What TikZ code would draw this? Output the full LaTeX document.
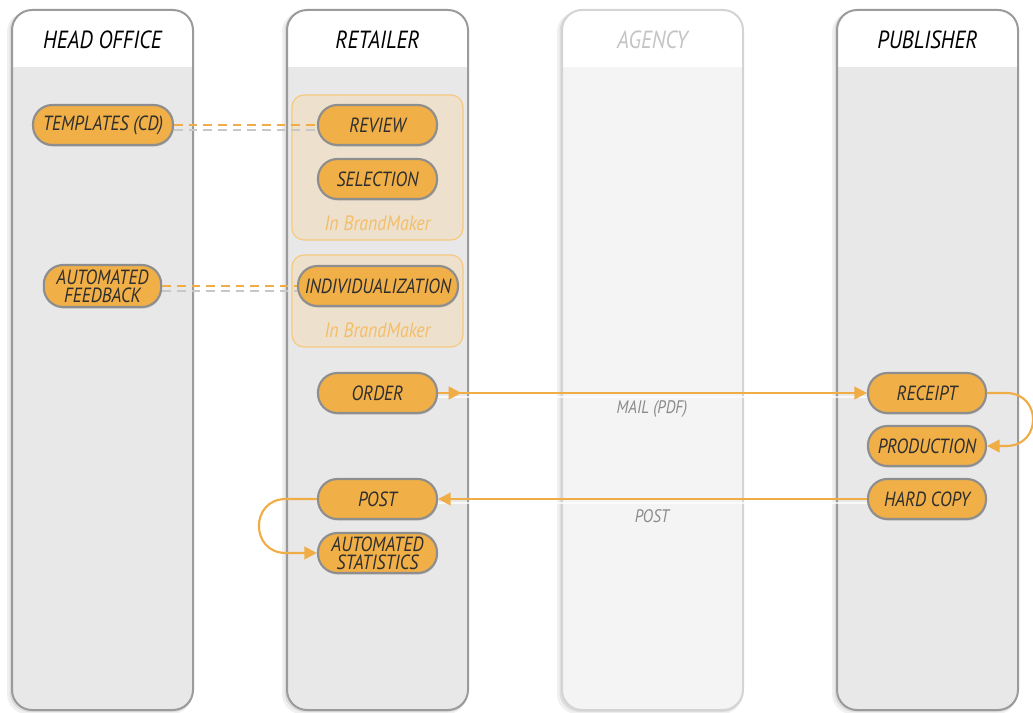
\documentclass[tikz,border=0pt]{standalone}
\usepackage{fontspec}
\setmainfont{PT Sans}[FakeStretch=0.86]
\usetikzlibrary{arrows.meta,shadows,decorations.markings}
\definecolor{pillfill}{HTML}{F0AF47}
\definecolor{pillline}{HTML}{8E8E8E}
\definecolor{lanefill}{HTML}{E8E8E8}
\definecolor{laneline}{HTML}{9B9B9B}
\definecolor{agfill}{HTML}{F4F4F4}
\definecolor{agline}{HTML}{D4D4D4}
\definecolor{agtext}{HTML}{C4C4C4}
\definecolor{boxfill}{HTML}{EDE0CD}
\definecolor{boxline}{HTML}{F6C97F}
\definecolor{bmtext}{HTML}{F3BE68}
\definecolor{conn}{HTML}{F0AC45}
\definecolor{lbl}{HTML}{8A8A8A}
\definecolor{txt}{HTML}{2E2E2E}
\newcommand\pilltext{\fontsize{15.4}{13.4}\selectfont\itshape}
\newcommand\drawlane[4]{%
  \fill[black,opacity=0.06,rounded corners=15pt] (#1-5,12) rectangle (#2-1,714);
  \fill[black,opacity=0.08,rounded corners=15pt] (#1-2.5,11) rectangle (#2,712);
  \begin{scope}
    \clip[rounded corners=15pt] (#1,10) rectangle (#2,710);
    \fill[#3] (#1,10) rectangle (#2,710);
    \fill[white] (#1,10) rectangle (#2,67);
  \end{scope}
  \draw[#4,line width=1.5pt,rounded corners=15pt] (#1,10) rectangle (#2,710);
}
\tikzset{
  pill/.style={draw=pillline,line width=1.6pt,fill=pillfill,rounded corners=14.5pt,
    minimum height=30pt,minimum width=#1,inner sep=0pt,align=center,font=\pilltext,text=txt,
    drop shadow={shadow xshift=0.5pt,shadow yshift=-1.2pt,opacity=0.3}},
  hdr/.style={font=\fontsize{18.6}{20}\selectfont\itshape,text=black},
  bmbox/.style={draw=boxline,line width=0.9pt,fill=boxfill,rounded corners=9pt,minimum width=128.25pt,inner sep=0pt},
  bmlabel/.style={font=\fontsize{15.6}{16}\selectfont\itshape,text=bmtext},
  lbltext/.style={font=\fontsize{13.6}{14}\selectfont\itshape,text=lbl},
  conn/.style={draw=conn,line width=1.6pt},
  dashconn/.style={draw=conn,line width=1.6pt,dash pattern=on 6.5pt off 4.5pt},
  shadowline/.style={draw=black!22,line width=1.6pt,dash pattern=on 6.5pt off 4.5pt},
  solidshadow/.style={draw=white,opacity=0.7,line width=1.5pt},
  tip/.style={-{Triangle[length=9.5pt,width=9.5pt]}},
  midtip/.style={postaction={decorate},decoration={markings,mark=at position 17.5pt with {\arrow{Triangle[length=9.5pt,width=9.5pt]}}}}
}
\begin{document}
\begin{tikzpicture}[x=0.75pt,y=-0.75pt]
\useasboundingbox (0,0) rectangle (1033,713);
% lanes
\drawlane{12}{193}{lanefill}{laneline}
\drawlane{287}{468}{lanefill}{laneline}
\drawlane{562}{743}{agfill}{agline}
\drawlane{837}{1018}{lanefill}{laneline}
\node[hdr] (hho) at (102.5,40) {HEAD OFFICE};
\node[hdr] (hre) at (377.5,40) {RETAILER};
\node[hdr,text=agtext] (hag) at (652.5,40) {AGENCY};
\node[hdr] (hpu) at (927.5,40) {PUBLISHER};
% BrandMaker boxes
\node[bmbox,minimum height=108.75pt] (bm1) at (377.5,167.5) {};
\node[bmbox,minimum height=69pt] (bm2) at (377.5,301) {};
\node[bmlabel] (bml1) at (377.5,223) {In BrandMaker};
\node[bmlabel] (bml2) at (377.5,330) {In BrandMaker};
% pills
\node[pill=105pt] (tpl) at (103,125) {TEMPLATES (CD)};
\node[pill=89.25pt] (rev) at (377.5,125) {REVIEW};
\node[pill=89.25pt] (sel) at (377.5,179) {SELECTION};
\node[pill=88pt,minimum height=31.5pt] (afb) at (102.5,286) {AUTOMATED\\FEEDBACK};
\node[pill=120pt] (ind) at (378,286) {INDIVIDUALIZATION};
\node[pill=89.25pt] (ord) at (377.5,393) {ORDER};
\node[pill=88.5pt] (rec) at (927,393) {RECEIPT};
\node[pill=88.5pt] (pro) at (927,446) {PRODUCTION};
\node[pill=88.5pt] (hcp) at (927,499) {HARD COPY};
\node[pill=89.25pt] (pst) at (377.5,499) {POST};
\node[pill=89.25pt] (sta) at (377.5,553) {AUTOMATED\\STATISTICS};
% connector shadows
\draw[shadowline] ([yshift=-4pt]tpl.east) -- ([yshift=-4pt]rev.west);
\draw[shadowline] ([yshift=-4pt]afb.east) -- ([yshift=-4pt]ind.west);
\draw[solidshadow] ([yshift=-3pt]ord.east) -- ([yshift=-3pt]rec.west);
\draw[solidshadow] ([yshift=-3pt]hcp.west) -- ([yshift=-3pt]pst.east);
% connectors
\draw[dashconn] (tpl.east) -- (rev.west);
\draw[dashconn] (afb.east) -- (ind.west);
\draw[conn,tip,midtip] (ord.east) -- (rec.west);
\draw[conn,tip] (hcp.west) -- (pst.east);
\draw[conn,tip] (rec.east) -- ++(19,0) .. controls +(36,0) and +(36,0) .. ([xshift=14.25pt]pro.east) -- (pro.east);
\draw[conn,tip] (pst.west) -- ++(-31,0) .. controls +(-36,0) and +(-36,0) .. ([xshift=-23.25pt]sta.west) -- (sta.west);
% labels
\node[lbltext] (lmail) at (652,409) {MAIL (PDF)};
\node[lbltext] (lpost) at (652,516) {POST};
\end{tikzpicture}
\end{document}
